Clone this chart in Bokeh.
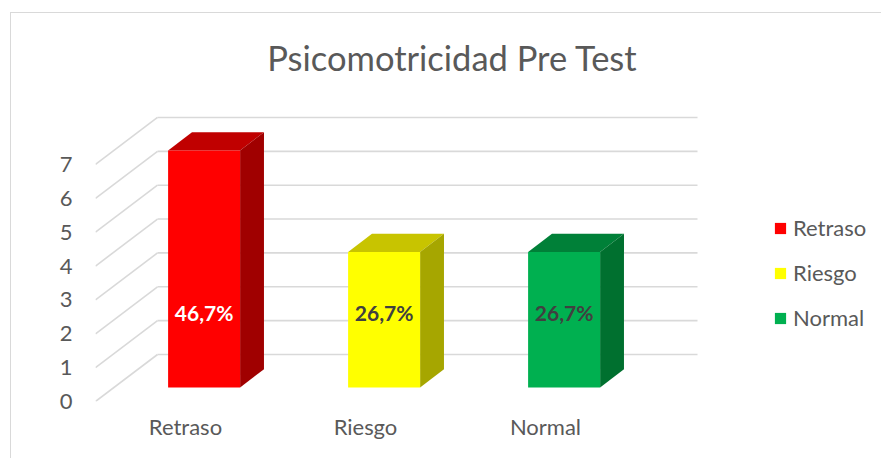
from bokeh.plotting import figure
from bokeh.models import (Range1d, FixedTicker, Legend, LegendItem, Label,
                          ColumnDataSource)
from bokeh.core.properties import value
from bokeh.embed import file_html
from bokeh.resources import INLINE

# ---------------- data ----------------
chart_title = "Psicomotricidad Pre Test"
categories = ["Retraso", "Riesgo", "Normal"]
counts = [7, 4, 4]
percent_labels = ["46,7%", "26,7%", "26,7%"]
y_ticks = [0, 1, 2, 3, 4, 5, 6, 7]

# ---------------- style ----------------
front_colors = ["#FF0000", "#FFFF00", "#00B050"]
top_colors = ["#C00000", "#C8C400", "#008038"]
side_colors = ["#A00000", "#A6A600", "#00702F"]
label_colors = ["#FFFFFF", "#404040", "#404040"]
TEXT = "#595959"
GRID = "#D9D9D9"
FONT = "Lato"

OX, OY = 11, 13                    # css offset of the canvas (chart border)
W, H = 871, 446
LEFT_B = 95 - OX
BOTTOM_B = H - (401 - OY)
PX_X, PX_Y = 180.0, 33.86          # pixels per category unit / per value unit
FW, FH = W - LEFT_B, H - BOTTOM_B
DXU, DYV = 62 / PX_X, 47 / PX_Y    # full floor depth offset in data units
D0, BD = 0.30, 0.385               # bar front depth and bar depth (fractions)
BW = 72 / PX_X                     # bar width

p = figure(width=W, height=H, output_backend="svg", toolbar_location=None,
           x_range=Range1d(0, FW / PX_X), y_range=Range1d(0, FH / PX_Y),
           min_border_left=LEFT_B, min_border_bottom=BOTTOM_B,
           min_border_top=0, min_border_right=0, title=None)
p.styles = {"margin-left": "10px", "margin-top": "12px",
            "border-left": "1px solid #D9D9D9",
            "border-top": "1px solid #D9D9D9"}
p.outline_line_color = None
p.background_fill_color = "white"
p.border_fill_color = "white"
p.grid.visible = False

# ---------------- gridlines (side wall + back wall) ----------------
ncat = len(categories)
side_x0 = [0.0] * len(y_ticks)
side_x1 = [DXU] * len(y_ticks)
side_y0 = [float(v) for v in y_ticks]
side_y1 = [v + DYV for v in y_ticks]
p.segment(x0=side_x0, y0=side_y0, x1=side_x1, y1=side_y1,
          line_color=GRID, line_width=1.6)
p.segment(x0=side_x1, y0=side_y1, x1=[ncat + DXU] * len(y_ticks), y1=side_y1,
          line_color=GRID, line_width=1.6)

# ---------------- 3D bars ----------------
cx = [i + 0.5 + D0 * DXU for i in range(ncat)]
xl = [c - BW / 2 for c in cx]
xr = [c + BW / 2 for c in cx]
yb = [D0 * DYV] * ncat
yt = [v + D0 * DYV for v in counts]
bdx, bdy = BD * DXU, BD * DYV

p.patches(xs=[[a, a + bdx, b + bdx, b] for a, b in zip(xl, xr)],
          ys=[[t, t + bdy, t + bdy, t] for t in yt],
          fill_color=top_colors, line_color=None)
p.patches(xs=[[b, b + bdx, b + bdx, b] for b in xr],
          ys=[[y0, y0 + bdy, t + bdy, t] for y0, t in zip(yb, yt)],
          fill_color=side_colors, line_color=None)
src = ColumnDataSource(dict(left=xl, right=xr, bottom=yb, top=yt,
                            color=front_colors, cat=categories))
front = p.quad(left="left", right="right", bottom="bottom", top="top",
               fill_color="color", line_color=None, source=src)

# value labels
lab_src = ColumnDataSource(dict(x=cx, y=[y0 + 2.22 for y0 in yb],
                                text=percent_labels, color=label_colors))
p.text(x="x", y="y", text="text", source=lab_src, text_color="color",
       text_align="center", text_baseline="middle",
       text_font=value(FONT), text_font_style="bold", text_font_size="21px")

# ---------------- axes ----------------
p.yaxis.ticker = FixedTicker(ticks=y_ticks)
p.xaxis.ticker = FixedTicker(ticks=[i + 0.5 for i in range(ncat)])
p.xaxis.major_label_overrides = {i + 0.5: c for i, c in enumerate(categories)}
for ax in (p.xaxis, p.yaxis):
    ax.axis_line_color = None
    ax.major_tick_line_color = None
    ax.minor_tick_line_color = None
    ax.major_tick_out = 0
    ax.major_tick_in = 0
    ax.minor_tick_out = 0
    ax.major_label_text_font = FONT
    ax.major_label_text_font_size = "22px"
    ax.major_label_text_color = TEXT
p.yaxis.major_label_standoff = 23
p.xaxis.major_label_standoff = 11

# ---------------- title ----------------
p.add_layout(Label(x=(452 - 95) / PX_X, y=(401 - 57) / PX_Y, text=chart_title,
                   text_align="center", text_baseline="middle",
                   text_font=FONT, text_font_size="34.5px",
                   text_color=TEXT))

# ---------------- legend ----------------
legend = Legend(items=[LegendItem(label=c, renderers=[front], index=i)
                       for i, c in enumerate(categories)],
                location=(678, 70), glyph_width=14, glyph_height=14,
                label_standoff=6, spacing=18, padding=0, margin=0,
                border_line_color=None, background_fill_alpha=0,
                label_text_font=FONT, label_text_font_size="22px",
                label_text_color=TEXT)
p.add_layout(legend)

open("out.html", "w").write(file_html(p, INLINE))
